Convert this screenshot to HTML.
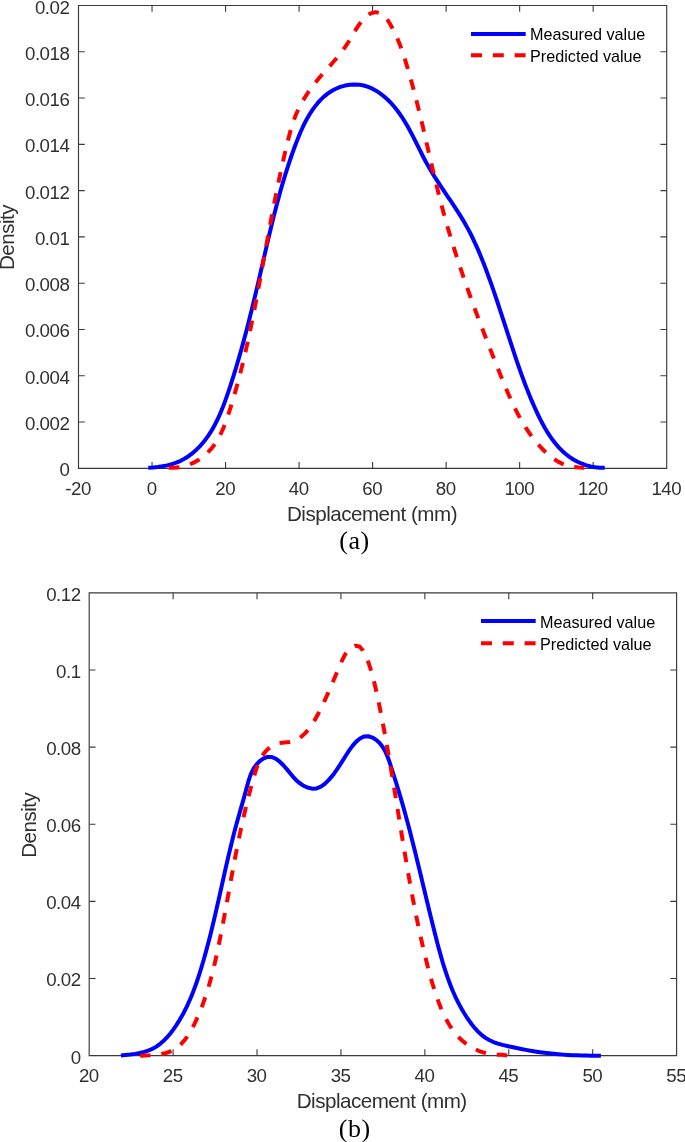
<!DOCTYPE html><html><head><meta charset="utf-8"><style>html,body{margin:0;padding:0;background:#fff;}body{width:685px;height:1142px;overflow:hidden;position:relative;}svg{position:absolute;left:0;top:0;will-change:transform;}text{font-family:"Liberation Sans",sans-serif;fill:#303030;}.tk{font-size:18.70px;letter-spacing:-0.5px;}.lb{font-size:20.60px;letter-spacing:-0.5px;}.lg{font-size:16.20px;fill:#000;}.cp{font-family:"Liberation Serif",serif;font-size:26.00px;fill:#000;letter-spacing:0.5px;}</style></head><body>
<svg width="685" height="1142" viewBox="0 0 685 1142">
<path d="M78.50 5.50 H666.70 V468.30 H78.50 Z" fill="none" stroke="#3a3a3a" stroke-width="1.15"/><path d="M152.03 468.30 v-6.3 M152.03 5.50 v6.3 M225.55 468.30 v-6.3 M225.55 5.50 v6.3 M299.08 468.30 v-6.3 M299.08 5.50 v6.3 M372.60 468.30 v-6.3 M372.60 5.50 v6.3 M446.13 468.30 v-6.3 M446.13 5.50 v6.3 M519.65 468.30 v-6.3 M519.65 5.50 v6.3 M593.18 468.30 v-6.3 M593.18 5.50 v6.3 M78.50 422.02 h6.3 M666.70 422.02 h-6.3 M78.50 375.74 h6.3 M666.70 375.74 h-6.3 M78.50 329.46 h6.3 M666.70 329.46 h-6.3 M78.50 283.18 h6.3 M666.70 283.18 h-6.3 M78.50 236.90 h6.3 M666.70 236.90 h-6.3 M78.50 190.62 h6.3 M666.70 190.62 h-6.3 M78.50 144.34 h6.3 M666.70 144.34 h-6.3 M78.50 98.06 h6.3 M666.70 98.06 h-6.3 M78.50 51.78 h6.3 M666.70 51.78 h-6.3 " fill="none" stroke="#3a3a3a" stroke-width="1.1"/>
<text class="tk" x="78.10" y="495.00" text-anchor="middle">-20</text>
<text class="tk" x="151.62" y="495.00" text-anchor="middle">0</text>
<text class="tk" x="225.15" y="495.00" text-anchor="middle">20</text>
<text class="tk" x="298.68" y="495.00" text-anchor="middle">40</text>
<text class="tk" x="372.20" y="495.00" text-anchor="middle">60</text>
<text class="tk" x="445.73" y="495.00" text-anchor="middle">80</text>
<text class="tk" x="519.25" y="495.00" text-anchor="middle">100</text>
<text class="tk" x="592.78" y="495.00" text-anchor="middle">120</text>
<text class="tk" x="666.30" y="495.00" text-anchor="middle">140</text>
<text class="tk" x="69.30" y="476.30" text-anchor="end">0</text>
<text class="tk" x="69.30" y="430.02" text-anchor="end">0.002</text>
<text class="tk" x="69.30" y="383.74" text-anchor="end">0.004</text>
<text class="tk" x="69.30" y="337.46" text-anchor="end">0.006</text>
<text class="tk" x="69.30" y="291.18" text-anchor="end">0.008</text>
<text class="tk" x="69.30" y="244.90" text-anchor="end">0.01</text>
<text class="tk" x="69.30" y="198.62" text-anchor="end">0.012</text>
<text class="tk" x="69.30" y="152.34" text-anchor="end">0.014</text>
<text class="tk" x="69.30" y="106.06" text-anchor="end">0.016</text>
<text class="tk" x="69.30" y="59.78" text-anchor="end">0.018</text>
<text class="tk" x="69.30" y="13.50" text-anchor="end">0.02</text>
<text class="lb" x="372" y="520.7" text-anchor="middle">Displacement (mm)</text>
<text class="lb" transform="translate(14.1,237.5) rotate(-90)" text-anchor="middle">Density</text>
<text class="cp" x="354.5" y="548.7" text-anchor="middle">(a)</text>
<path d="M148.29 467.67 L153.02 467.41 L157.76 466.96 L162.50 466.29 L167.19 465.37 L171.80 464.17 L176.30 462.66 L180.66 460.79 L184.85 458.55 L188.84 455.95 L192.63 453.05 L196.20 449.90 L199.56 446.55 L202.70 443.04 L205.62 439.38 L208.36 435.58 L210.91 431.65 L213.30 427.62 L215.54 423.48 L217.63 419.25 L219.61 414.94 L221.47 410.56 L223.24 406.12 L224.92 401.64 L226.54 397.13 L228.10 392.59 L229.62 388.04 L231.11 383.49 L232.57 378.94 L234.00 374.38 L235.40 369.82 L236.77 365.26 L238.12 360.69 L239.45 356.12 L240.75 351.55 L242.03 346.97 L243.29 342.39 L244.53 337.81 L245.75 333.23 L246.95 328.64 L248.13 324.05 L249.30 319.46 L250.45 314.86 L251.59 310.26 L252.72 305.66 L253.84 301.06 L254.94 296.45 L256.04 291.84 L257.13 287.23 L258.21 282.62 L259.29 278.00 L260.36 273.38 L261.42 268.76 L262.49 264.14 L263.55 259.51 L264.61 254.88 L265.68 250.25 L266.75 245.62 L267.83 241.00 L268.91 236.37 L270.01 231.75 L271.12 227.12 L272.24 222.50 L273.38 217.89 L274.54 213.28 L275.72 208.67 L276.91 204.07 L278.14 199.48 L279.39 194.89 L280.66 190.31 L281.97 185.74 L283.30 181.17 L284.67 176.62 L286.08 172.08 L287.52 167.54 L289.00 163.02 L290.52 158.51 L292.09 154.02 L293.70 149.53 L295.35 145.06 L297.06 140.61 L298.82 136.18 L300.67 131.79 L302.62 127.46 L304.68 123.19 L306.88 119.01 L309.23 114.93 L311.76 110.97 L314.47 107.13 L317.40 103.44 L320.55 99.93 L323.96 96.65 L327.64 93.66 L331.62 91.02 L335.88 88.76 L340.38 86.93 L345.03 85.57 L349.77 84.71 L354.50 84.39 L359.17 84.64 L363.71 85.48 L368.11 86.84 L372.37 88.69 L376.47 90.95 L380.40 93.59 L384.16 96.54 L387.72 99.76 L391.09 103.18 L394.26 106.75 L397.23 110.46 L400.02 114.28 L402.66 118.20 L405.17 122.22 L407.56 126.31 L409.86 130.46 L412.08 134.66 L414.25 138.91 L416.38 143.17 L418.51 147.45 L420.64 151.73 L422.79 155.99 L425.00 160.22 L427.27 164.41 L429.63 168.55 L432.07 172.64 L434.57 176.69 L437.14 180.70 L439.75 184.69 L442.39 188.65 L445.05 192.59 L447.72 196.53 L450.38 200.47 L453.02 204.42 L455.64 208.37 L458.22 212.35 L460.74 216.36 L463.19 220.40 L465.56 224.48 L467.85 228.62 L470.05 232.79 L472.17 237.01 L474.21 241.28 L476.19 245.57 L478.10 249.91 L479.95 254.27 L481.75 258.66 L483.50 263.08 L485.21 267.52 L486.89 271.97 L488.53 276.44 L490.15 280.93 L491.74 285.43 L493.31 289.93 L494.86 294.45 L496.39 298.97 L497.91 303.50 L499.41 308.03 L500.90 312.56 L502.38 317.09 L503.85 321.62 L505.32 326.15 L506.79 330.67 L508.25 335.19 L509.72 339.70 L511.18 344.20 L512.66 348.68 L514.14 353.16 L515.63 357.62 L517.14 362.07 L518.67 366.51 L520.23 370.95 L521.81 375.38 L523.43 379.80 L525.09 384.21 L526.79 388.62 L528.54 393.03 L530.35 397.44 L532.21 401.85 L534.13 406.26 L536.12 410.67 L538.18 415.07 L540.32 419.44 L542.57 423.76 L544.92 428.01 L547.39 432.16 L550.00 436.19 L552.75 440.08 L555.66 443.81 L558.73 447.35 L561.98 450.68 L565.43 453.79 L569.08 456.65 L572.94 459.23 L577.03 461.51 L581.35 463.48 L585.85 465.11 L590.49 466.37 L595.21 467.24 L599.97 467.70 L604.72 467.73" fill="none" stroke="#0000ff" stroke-width="4" stroke-linejoin="round"/>
<path d="M168.78 467.65 L174.13 467.80 L179.41 467.29 L184.57 466.18 L189.57 464.51 L194.36 462.33 L198.91 459.69 L203.17 456.64 L207.10 453.22 L210.66 449.48 L213.85 445.47 L216.72 441.20 L219.29 436.72 L221.61 432.06 L223.71 427.25 L225.64 422.32 L227.42 417.30 L229.09 412.23 L230.70 407.14 L232.26 402.05 L233.77 396.96 L235.24 391.86 L236.67 386.76 L238.06 381.65 L239.41 376.55 L240.73 371.44 L242.01 366.33 L243.26 361.21 L244.47 356.09 L245.66 350.97 L246.82 345.85 L247.95 340.72 L249.06 335.59 L250.15 330.46 L251.21 325.33 L252.26 320.19 L253.29 315.05 L254.30 309.90 L255.30 304.75 L256.28 299.60 L257.26 294.45 L258.23 289.29 L259.19 284.13 L260.14 278.97 L261.09 273.80 L262.04 268.63 L262.99 263.46 L263.93 258.29 L264.88 253.11 L265.83 247.94 L266.78 242.76 L267.73 237.58 L268.69 232.40 L269.66 227.23 L270.63 222.05 L271.62 216.87 L272.61 211.70 L273.61 206.52 L274.63 201.35 L275.66 196.18 L276.70 191.01 L277.76 185.84 L278.83 180.68 L279.93 175.52 L281.04 170.36 L282.17 165.21 L283.33 160.06 L284.50 154.92 L285.71 149.78 L286.93 144.65 L288.19 139.52 L289.50 134.41 L290.90 129.34 L292.43 124.32 L294.12 119.37 L296.01 114.51 L298.13 109.74 L300.47 105.07 L303.01 100.51 L305.74 96.04 L308.64 91.66 L311.70 87.38 L314.90 83.19 L318.22 79.09 L321.65 75.07 L325.15 71.11 L328.68 67.18 L332.20 63.25 L335.66 59.29 L339.02 55.26 L342.24 51.14 L345.28 46.89 L348.11 42.50 L350.79 37.99 L353.45 33.43 L356.21 28.90 L359.20 24.47 L362.53 20.27 L366.29 16.50 L370.57 13.38 L375.62 12.12 L380.60 13.34 L384.63 16.38 L387.94 20.58 L390.79 25.25 L393.38 30.00 L395.73 34.80 L397.87 39.64 L399.84 44.52 L401.65 49.43 L403.35 54.38 L404.95 59.34 L406.49 64.34 L407.98 69.34 L409.43 74.37 L410.85 79.41 L412.24 84.46 L413.60 89.53 L414.93 94.60 L416.23 99.69 L417.51 104.79 L418.78 109.90 L420.02 115.02 L421.25 120.14 L422.46 125.27 L423.67 130.40 L424.86 135.54 L426.05 140.68 L427.24 145.83 L428.43 150.97 L429.61 156.12 L430.80 161.26 L432.00 166.41 L433.21 171.54 L434.43 176.68 L435.66 181.81 L436.91 186.94 L438.18 192.05 L439.46 197.16 L440.78 202.26 L442.11 207.36 L443.48 212.44 L444.87 217.51 L446.30 222.56 L447.75 227.61 L449.23 232.65 L450.74 237.68 L452.27 242.70 L453.83 247.71 L455.41 252.71 L457.02 257.70 L458.65 262.69 L460.30 267.66 L461.97 272.64 L463.67 277.60 L465.38 282.56 L467.12 287.51 L468.87 292.46 L470.65 297.40 L472.44 302.34 L474.25 307.28 L476.07 312.21 L477.91 317.14 L479.77 322.06 L481.64 326.98 L483.52 331.90 L485.42 336.82 L487.33 341.74 L489.25 346.65 L491.18 351.57 L493.12 356.49 L495.08 361.40 L497.04 366.32 L499.00 371.24 L500.98 376.16 L502.97 381.07 L504.98 385.98 L507.04 390.86 L509.14 395.72 L511.29 400.53 L513.52 405.31 L515.83 410.03 L518.23 414.69 L520.74 419.28 L523.36 423.79 L526.11 428.21 L528.99 432.54 L532.03 436.77 L535.22 440.88 L538.59 444.88 L542.14 448.74 L545.89 452.45 L549.84 455.92 L554.02 459.07 L558.44 461.84 L563.12 464.13 L568.06 465.88 L573.29 467.01 L578.81 467.44 L584.25 467.72" fill="none" stroke="#ff0000" stroke-width="4" stroke-dasharray="10.7 10.91" stroke-dashoffset="-0.1" stroke-linejoin="round"/>
<path d="M471 34 H525.7" stroke="#0000ff" stroke-width="4"/>
<path d="M471 55.3 H525.7" stroke="#ff0000" stroke-width="4" stroke-dasharray="11 10.8"/>
<text class="lg" x="530" y="40.3">Measured value</text>
<text class="lg" x="530" y="61.9">Predicted value</text>
<path d="M89.20 592.90 H676.60 V1055.60 H89.20 Z" fill="none" stroke="#3a3a3a" stroke-width="1.15"/><path d="M173.11 1055.60 v-6.3 M173.11 592.90 v6.3 M257.03 1055.60 v-6.3 M257.03 592.90 v6.3 M340.94 1055.60 v-6.3 M340.94 592.90 v6.3 M424.86 1055.60 v-6.3 M424.86 592.90 v6.3 M508.77 1055.60 v-6.3 M508.77 592.90 v6.3 M592.69 1055.60 v-6.3 M592.69 592.90 v6.3 M89.20 978.48 h6.3 M676.60 978.48 h-6.3 M89.20 901.37 h6.3 M676.60 901.37 h-6.3 M89.20 824.25 h6.3 M676.60 824.25 h-6.3 M89.20 747.13 h6.3 M676.60 747.13 h-6.3 M89.20 670.02 h6.3 M676.60 670.02 h-6.3 " fill="none" stroke="#3a3a3a" stroke-width="1.1"/>
<text class="tk" x="88.80" y="1082.30" text-anchor="middle">20</text>
<text class="tk" x="172.71" y="1082.30" text-anchor="middle">25</text>
<text class="tk" x="256.63" y="1082.30" text-anchor="middle">30</text>
<text class="tk" x="340.54" y="1082.30" text-anchor="middle">35</text>
<text class="tk" x="424.46" y="1082.30" text-anchor="middle">40</text>
<text class="tk" x="508.37" y="1082.30" text-anchor="middle">45</text>
<text class="tk" x="592.29" y="1082.30" text-anchor="middle">50</text>
<text class="tk" x="676.20" y="1082.30" text-anchor="middle">55</text>
<text class="tk" x="80.60" y="1063.60" text-anchor="end">0</text>
<text class="tk" x="80.60" y="986.48" text-anchor="end">0.02</text>
<text class="tk" x="80.60" y="909.37" text-anchor="end">0.04</text>
<text class="tk" x="80.60" y="832.25" text-anchor="end">0.06</text>
<text class="tk" x="80.60" y="755.13" text-anchor="end">0.08</text>
<text class="tk" x="80.60" y="678.02" text-anchor="end">0.1</text>
<text class="tk" x="80.60" y="600.90" text-anchor="end">0.12</text>
<text class="lb" x="381.7" y="1108.4" text-anchor="middle">Displacement (mm)</text>
<text class="lb" transform="translate(35.7,825.2) rotate(-90)" text-anchor="middle">Density</text>
<text class="cp" x="354.7" y="1136.7" text-anchor="middle">(b)</text>
<path d="M120.90 1055.50 L125.51 1055.05 L130.23 1054.54 L134.98 1053.89 L139.71 1053.03 L144.35 1051.89 L148.82 1050.40 L153.08 1048.50 L157.06 1046.14 L160.78 1043.36 L164.27 1040.24 L167.53 1036.83 L170.59 1033.19 L173.46 1029.37 L176.17 1025.43 L178.73 1021.42 L181.15 1017.35 L183.43 1013.22 L185.59 1009.03 L187.63 1004.79 L189.57 1000.50 L191.41 996.17 L193.15 991.80 L194.81 987.40 L196.40 982.96 L197.91 978.50 L199.37 974.02 L200.78 969.52 L202.15 965.00 L203.48 960.48 L204.78 955.94 L206.04 951.39 L207.27 946.84 L208.47 942.27 L209.65 937.70 L210.80 933.12 L211.93 928.54 L213.03 923.95 L214.13 919.35 L215.20 914.75 L216.26 910.15 L217.31 905.54 L218.36 900.93 L219.39 896.32 L220.42 891.71 L221.45 887.10 L222.47 882.49 L223.50 877.88 L224.54 873.27 L225.57 868.67 L226.62 864.07 L227.68 859.48 L228.75 854.89 L229.83 850.30 L230.94 845.72 L232.06 841.15 L233.20 836.59 L234.36 832.04 L235.56 827.49 L236.78 822.96 L238.02 818.44 L239.30 813.92 L240.60 809.41 L241.90 804.88 L243.20 800.33 L244.49 795.76 L245.75 791.14 L246.99 786.49 L248.27 781.83 L249.71 777.26 L251.44 772.85 L253.56 768.67 L256.18 764.80 L259.43 761.32 L263.27 758.52 L267.47 756.90 L271.80 757.00 L276.05 758.90 L280.04 761.96 L283.60 765.48 L286.78 769.12 L289.74 772.77 L292.67 776.32 L295.74 779.69 L299.12 782.77 L302.99 785.44 L307.42 787.55 L312.10 788.68 L316.65 788.38 L320.89 786.64 L324.80 783.85 L328.38 780.39 L331.61 776.65 L334.51 772.92 L337.15 769.21 L339.64 765.47 L342.05 761.67 L344.47 757.76 L346.99 753.73 L349.70 749.60 L352.67 745.58 L355.98 741.90 L359.70 738.76 L363.86 736.57 L368.22 736.22 L372.51 737.56 L376.47 740.08 L379.86 743.29 L382.70 746.99 L385.07 751.06 L387.07 755.43 L388.81 759.98 L390.37 764.62 L391.86 769.25 L393.32 773.83 L394.76 778.37 L396.17 782.89 L397.56 787.38 L398.92 791.88 L400.26 796.37 L401.57 800.87 L402.87 805.38 L404.14 809.90 L405.39 814.42 L406.62 818.95 L407.84 823.49 L409.04 828.03 L410.22 832.58 L411.39 837.13 L412.55 841.68 L413.69 846.25 L414.83 850.81 L415.95 855.38 L417.07 859.95 L418.19 864.53 L419.29 869.11 L420.40 873.70 L421.50 878.28 L422.59 882.87 L423.69 887.46 L424.79 892.06 L425.89 896.65 L426.99 901.25 L428.10 905.84 L429.21 910.44 L430.33 915.04 L431.46 919.64 L432.60 924.24 L433.75 928.84 L434.91 933.44 L436.08 938.03 L437.26 942.63 L438.47 947.22 L439.71 951.80 L440.98 956.37 L442.29 960.93 L443.65 965.46 L445.07 969.97 L446.55 974.44 L448.10 978.89 L449.73 983.30 L451.45 987.67 L453.25 991.99 L455.16 996.27 L457.17 1000.49 L459.30 1004.66 L461.54 1008.76 L463.92 1012.80 L466.43 1016.77 L469.08 1020.67 L471.88 1024.48 L474.86 1028.15 L478.05 1031.61 L481.47 1034.79 L485.15 1037.62 L489.11 1040.05 L493.38 1042.02 L497.88 1043.60 L502.54 1044.89 L507.26 1046.02 L511.95 1047.07 L516.62 1048.06 L521.27 1049.00 L525.89 1049.88 L530.51 1050.70 L535.13 1051.45 L539.74 1052.15 L544.37 1052.78 L549.02 1053.34 L553.69 1053.83 L558.38 1054.26 L563.10 1054.62 L567.83 1054.93 L572.56 1055.18 L577.30 1055.37 L582.05 1055.52 L586.78 1055.62 L591.50 1055.68 L596.21 1055.70 L600.89 1055.69" fill="none" stroke="#0000ff" stroke-width="4" stroke-linejoin="round"/>
<path d="M140.21 1055.70 L144.72 1055.55 L149.64 1055.35 L154.80 1054.99 L159.99 1054.34 L165.02 1053.29 L169.70 1051.73 L173.94 1049.60 L177.77 1046.96 L181.23 1043.89 L184.36 1040.44 L187.19 1036.67 L189.78 1032.64 L192.16 1028.42 L194.37 1024.07 L196.44 1019.66 L198.41 1015.20 L200.28 1010.72 L202.05 1006.20 L203.72 1001.66 L205.31 997.09 L206.82 992.49 L208.25 987.87 L209.62 983.23 L210.91 978.57 L212.15 973.90 L213.33 969.21 L214.46 964.50 L215.55 959.79 L216.60 955.06 L217.61 950.33 L218.60 945.59 L219.56 940.85 L220.51 936.11 L221.44 931.36 L222.35 926.62 L223.25 921.87 L224.15 917.13 L225.03 912.38 L225.91 907.63 L226.78 902.89 L227.65 898.14 L228.51 893.39 L229.38 888.65 L230.24 883.90 L231.11 879.16 L231.99 874.42 L232.87 869.68 L233.75 864.94 L234.65 860.20 L235.56 855.46 L236.48 850.73 L237.42 846.00 L238.37 841.27 L239.34 836.54 L240.33 831.81 L241.34 827.09 L242.37 822.38 L243.43 817.66 L244.51 812.95 L245.62 808.24 L246.76 803.54 L247.93 798.84 L249.14 794.14 L250.37 789.45 L251.65 784.76 L252.96 780.08 L254.31 775.40 L255.73 770.74 L257.28 766.16 L259.08 761.73 L261.21 757.52 L263.77 753.59 L266.86 750.01 L270.50 746.92 L274.68 744.54 L279.35 743.08 L284.38 742.49 L289.41 741.99 L294.06 740.81 L298.26 738.81 L302.06 736.12 L305.50 732.87 L308.63 729.18 L311.49 725.18 L314.13 721.01 L316.60 716.75 L318.90 712.44 L321.09 708.10 L323.17 703.77 L325.17 699.45 L327.12 695.15 L329.03 690.85 L330.91 686.54 L332.78 682.18 L334.66 677.77 L336.57 673.29 L338.52 668.72 L340.52 664.05 L342.62 659.29 L344.95 654.72 L347.72 650.69 L351.11 647.55 L355.30 645.68 L359.52 646.52 L362.74 650.29 L365.25 654.68 L367.23 659.17 L368.88 663.74 L370.34 668.35 L371.71 672.99 L372.99 677.64 L374.19 682.32 L375.33 687.00 L376.41 691.70 L377.45 696.42 L378.44 701.14 L379.41 705.86 L380.35 710.60 L381.29 715.33 L382.20 720.07 L383.11 724.81 L384.00 729.55 L384.88 734.29 L385.74 739.04 L386.60 743.79 L387.45 748.54 L388.28 753.30 L389.11 758.05 L389.93 762.81 L390.74 767.57 L391.55 772.33 L392.35 777.10 L393.14 781.86 L393.93 786.63 L394.71 791.40 L395.49 796.17 L396.26 800.94 L397.04 805.71 L397.81 810.49 L398.58 815.26 L399.35 820.03 L400.13 824.81 L400.90 829.58 L401.68 834.36 L402.46 839.13 L403.24 843.90 L404.03 848.67 L404.83 853.44 L405.63 858.21 L406.44 862.98 L407.26 867.74 L408.09 872.51 L408.93 877.27 L409.78 882.02 L410.64 886.78 L411.51 891.53 L412.40 896.28 L413.30 901.02 L414.21 905.77 L415.15 910.50 L416.09 915.24 L417.06 919.97 L418.04 924.69 L419.04 929.41 L420.07 934.12 L421.11 938.83 L422.17 943.53 L423.26 948.23 L424.37 952.92 L425.50 957.61 L426.66 962.29 L427.85 966.96 L429.07 971.62 L430.33 976.28 L431.64 980.92 L433.02 985.55 L434.47 990.16 L435.99 994.76 L437.61 999.35 L439.32 1003.91 L441.14 1008.44 L443.10 1012.93 L445.20 1017.34 L447.47 1021.65 L449.93 1025.81 L452.61 1029.82 L455.52 1033.62 L458.69 1037.21 L462.14 1040.54 L465.88 1043.59 L469.87 1046.33 L474.10 1048.73 L478.52 1050.76 L483.11 1052.39 L487.82 1053.60 L492.62 1054.36 L497.49 1054.64 L502.35 1054.73 L507.10 1055.50" fill="none" stroke="#ff0000" stroke-width="4" stroke-dasharray="10.7 10.94" stroke-dashoffset="0.45" stroke-linejoin="round"/>
<path d="M481 621 H535.7" stroke="#0000ff" stroke-width="4"/>
<path d="M481 643.2 H535.7" stroke="#ff0000" stroke-width="4" stroke-dasharray="11 10.8"/>
<text class="lg" x="540" y="627.5">Measured value</text>
<text class="lg" x="540" y="649.7">Predicted value</text>
</svg></body></html>
